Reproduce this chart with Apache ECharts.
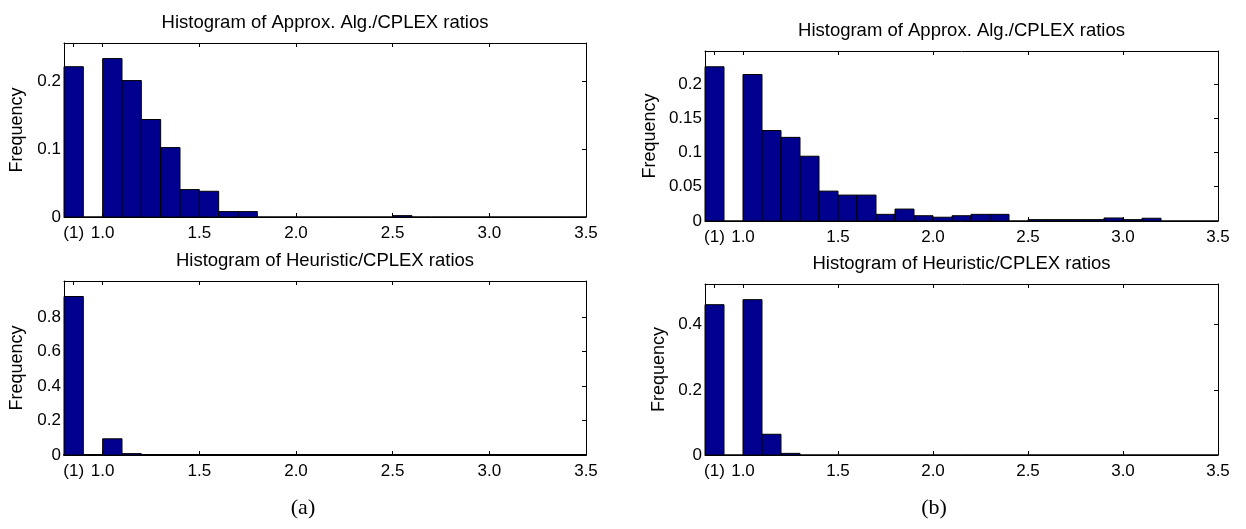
<!DOCTYPE html>
<html>
<head>
<meta charset="utf-8">
<script src="https://cdn.jsdelivr.net/npm/echarts@6/dist/echarts.min.js"></script>
<style>
  html, body { margin: 0; padding: 0; background: #fff; }
  #main { width: 1246px; height: 529px; }
</style>
</head>
<body>
<div id="main"></div>
<script type="text/javascript">
// left edge of every 0.1-wide bin; the first one is the "(1)" bin
var binStart = [0.8, 0.9, 1.0, 1.1, 1.2, 1.3, 1.4, 1.5, 1.6, 1.7, 1.8, 1.9, 2.0, 2.1,
                2.2, 2.3, 2.4, 2.5, 2.6, 2.7, 2.8, 2.9, 3.0, 3.1, 3.2, 3.3, 3.4];
var binWidth = 0.1;

// (a) top : Approx. Alg./CPLEX
var approxA = [0.222, 0, 0.234, 0.2015, 0.144, 0.1025, 0.0405, 0.038, 0.008, 0.008, 0, 0, 0, 0,
               0, 0, 0, 0.002, 0, 0, 0, 0, 0, 0, 0, 0, 0];
// (a) bottom : Heuristic/CPLEX
var heurA = [0.92, 0, 0.094, 0.008, 0.001, 0, 0, 0, 0, 0, 0, 0, 0, 0,
             0, 0, 0, 0, 0, 0, 0, 0, 0, 0, 0, 0, 0];
// (b) top : Approx. Alg./CPLEX
var approxB = [0.225, 0, 0.2137, 0.132, 0.122, 0.0945, 0.0436, 0.0378, 0.0378, 0.0097, 0.0174, 0.0077, 0.0055, 0.0077,
               0.0097, 0.0097, 0, 0.002, 0.002, 0.002, 0.002, 0.0044, 0.002, 0.004, 0, 0, 0];
// (b) bottom : Heuristic/CPLEX
var heurB = [0.4615, 0, 0.477, 0.0637, 0.005, 0, 0, 0, 0, 0, 0, 0, 0, 0,
             0, 0, 0, 0, 0, 0, 0, 0, 0, 0, 0, 0, 0];

var xTicks = [0.85, 1.0, 1.5, 2.0, 2.5, 3.0, 3.5];
var yTicksA1 = [0, 0.1, 0.2];
var yTicksA2 = [0, 0.2, 0.4, 0.6, 0.8];
var yTicksB1 = [0, 0.05, 0.1, 0.15, 0.2];
var yTicksB2 = [0, 0.2, 0.4];

var titleTop = 'Histogram of Approx. Alg./CPLEX ratios';
var titleBottom = 'Histogram of Heuristic/CPLEX ratios';

var font = 'Liberation Sans, Arial, sans-serif';
var panels = [
    {box: [64, 43, 522, 174], data: approxA, yMax: 0.257, yTicks: yTicksA1, title: titleTop, nameGap: 38, base: 1},
    {box: [64, 281, 522, 174], data: heurA, yMax: 1.01, yTicks: yTicksA2, title: titleBottom, nameGap: 38, base: 2},
    {box: [705, 51, 513, 170], data: approxB, yMax: 0.248, yTicks: yTicksB1, title: titleTop, nameGap: 46, base: 1},
    {box: [705, 284, 513, 171], data: heurB, yMax: 0.525, yTicks: yTicksB2, title: titleBottom, nameGap: 37, base: 1}
];

function renderBin(params, api) {
    var x0 = api.value(0), h = api.value(1);
    var p0 = api.coord([x0, h]);
    var p1 = api.coord([x0 + binWidth, 0]);
    return {
        type: 'rect',
        shape: {x: p0[0], y: p0[1], width: p1[0] - p0[0], height: p1[1] - p0[1]},
        style: {fill: '#00008f', stroke: '#000', lineWidth: 1}
    };
}

var grids = [], xAxes = [], yAxes = [], series = [], graphics = [];
panels.forEach(function (p, i) {
    grids.push({left: p.box[0], top: p.box[1], width: p.box[2], height: p.box[3]});
    var line = {show: true, onZero: false, lineStyle: {color: '#000', width: 1}};
    var tick = {show: true, inside: true, length: 4, customValues: xTicks, lineStyle: {color: '#000'}};
    xAxes.push({
        type: 'value', gridIndex: i, position: 'bottom', min: 0.8, max: 3.5,
        axisLine: {show: true, onZero: false, lineStyle: {color: '#000', width: p.base}},
        axisTick: tick, splitLine: {show: false},
        axisLabel: {
            customValues: xTicks, color: '#000', fontSize: 17, fontFamily: font, margin: 8,
            formatter: function (v) { return v < 0.9 ? '(1)' : v.toFixed(1); }
        }
    });
    xAxes.push({
        type: 'value', gridIndex: i, position: 'top', min: 0.8, max: 3.5,
        axisLine: line, axisTick: tick, axisLabel: {show: false}, splitLine: {show: false}
    });
    var yTick = {show: true, inside: true, length: 4, customValues: p.yTicks, lineStyle: {color: '#000'}};
    yAxes.push({
        type: 'value', gridIndex: i, position: 'left', min: 0, max: p.yMax,
        name: 'Frequency', nameLocation: 'middle', nameGap: p.nameGap,
        nameTextStyle: {color: '#000', fontSize: 18, fontFamily: font},
        axisLine: line, axisTick: yTick, splitLine: {show: false},
        axisLabel: {
            customValues: p.yTicks, color: '#000', fontSize: 17, fontFamily: font, margin: 3,
            formatter: function (v) { return String(+v.toFixed(2)); }
        }
    });
    yAxes.push({
        type: 'value', gridIndex: i, position: 'right', min: 0, max: p.yMax,
        axisLine: line, axisTick: yTick, axisLabel: {show: false}, splitLine: {show: false}
    });
    series.push({
        type: 'custom', xAxisIndex: i * 2, yAxisIndex: i * 2, renderItem: renderBin,
        data: binStart.map(function (s, k) { return [s, p.data[k]]; })
    });
    graphics.push({
        type: 'text', x: p.box[0] + p.box[2] / 2, y: p.box[1] - 20,
        style: {text: p.title, fill: '#000', fontSize: 18.5, fontFamily: font, textAlign: 'center', textVerticalAlign: 'middle'}
    });
});
graphics.push({type: 'text', x: 303, y: 508,
    style: {text: '(a)', fill: '#000', fontSize: 22, fontFamily: 'Liberation Serif, serif', textAlign: 'center', textVerticalAlign: 'middle'}});
graphics.push({type: 'text', x: 934, y: 508,
    style: {text: '(b)', fill: '#000', fontSize: 22, fontFamily: 'Liberation Serif, serif', textAlign: 'center', textVerticalAlign: 'middle'}});

var myChart = echarts.init(document.getElementById('main'));
myChart.setOption({
    animation: false,
    backgroundColor: '#fff',
    grid: grids,
    xAxis: xAxes,
    yAxis: yAxes,
    series: series,
    graphic: graphics
});
</script>
</body>
</html>
